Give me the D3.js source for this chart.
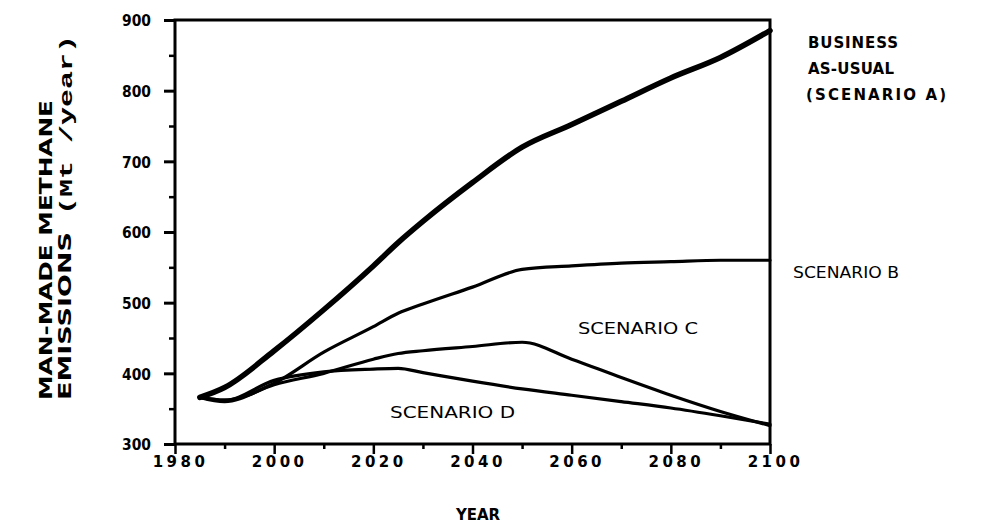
<!DOCTYPE html>
<html><head><meta charset="utf-8">
<script src="https://cdn.jsdelivr.net/npm/d3@7"></script>
<style>body{margin:0;background:#fff}svg{display:block}</style>
</head><body>
<svg id="c" width="993" height="529"></svg>
<script>
const years = [1985,1990,2000,2010,2020,2025,2030,2040,2050,2060,2070,2080,2090,2100];
const scenarioA = [366,380,432,490,552,585,615,670,720,752,785,818,847,885];
const scenarioB = [366,362,386,430,466,485,498,522,547,552,556,558,560,560];
const scenarioC = [366,360,384,400,420,428,432,438,444,420,394,369,346,326];
const scenarioD = [366,362,390,402,406,407,401,389,378,369,360,351,340,328];
const xTicks = [1980,2000,2020,2040,2060,2080,2100];
const xTickLabels = ["1980","2000","2020","2040","2060","2080","2100"];
const yTicks = [300,400,500,600,700,800,900];

const svg = d3.select("#c");
const L=175, R=770, T=20, B=444;
const x = d3.scaleLinear().domain([1980,2100]).range([L,R]);
const y = d3.scaleLinear().domain([300,900]).range([B,T]);
const FONT = "'DejaVu Sans', sans-serif";

// frame
svg.append("rect").attr("x",L).attr("y",T).attr("width",R-L).attr("height",B-T)
  .attr("fill","none").attr("stroke","#000").attr("stroke-width",3);

// y axis
const yAx = svg.append("g").attr("transform",`translate(${L},0)`)
  .call(d3.axisLeft(y).tickValues(d3.range(300,901,50)).tickSize(8).tickFormat(d=> yTicks.includes(d)? d : ""));
yAx.select(".domain").remove();
yAx.selectAll(".tick line").attr("stroke","#000").attr("stroke-width",d=> d%100===0?3:2.5)
  .attr("x2",d=> d%100===0?-11:-6);
yAx.selectAll(".tick text").filter(d=>yTicks.includes(d)).attr("x",-24).attr("dy","0.36em")
  .style("font-family",FONT).style("font-weight","bold").style("font-size","16px")
  .attr("textLength",29).attr("lengthAdjust","spacingAndGlyphs");

// x axis
const xAx = svg.append("g").attr("transform",`translate(0,${B})`)
  .call(d3.axisBottom(x).tickValues(d3.range(1980,2101,10)).tickSize(8)
    .tickFormat(d=> { const i = xTicks.indexOf(d); return i>=0 ? xTickLabels[i] : ""; }));
xAx.select(".domain").remove();
xAx.selectAll(".tick line").attr("stroke","#000").attr("stroke-width",2.5)
  .attr("y2",d=> d%20===0?10:5);
xAx.selectAll(".tick text").filter(d=>xTicks.includes(d)).attr("y",12).attr("dx","5px")
  .style("font-family",FONT).style("font-weight","bold").style("font-size","15px")
  .style("letter-spacing","3.5px");

// lines
const line = d3.line().x(d=>x(d[0])).y(d=>y(d[1])).curve(d3.curveMonotoneX);
const series = [[scenarioA,5.5],[scenarioB,3.2],[scenarioC,3.2],[scenarioD,3.2]];
series.forEach(([vals,w])=>{
  svg.append("path").datum(years.map((yr,i)=>[yr,vals[i]]))
    .attr("d",line).attr("fill","none").attr("stroke","#000").attr("stroke-width",w)
    .attr("stroke-linejoin","round").attr("stroke-linecap","round");
});

// axis titles
svg.append("text").attr("x",456).attr("y",520)
  .style("font-family",FONT).style("font-weight","bold").style("font-size","15px")
  .attr("textLength",44).attr("lengthAdjust","spacing").text("YEAR");
const yl = svg.append("g").attr("transform","rotate(-90)");
yl.append("text").attr("x",-400).attr("y",52)
  .style("font-family",FONT).style("font-weight","900").style("font-size","17px")
  .attr("textLength",300).attr("lengthAdjust","spacingAndGlyphs")
  .text("MAN-MADE  METHANE");
yl.append("text").attr("x",-400).attr("y",71)
  .style("font-family",FONT).style("font-weight","900").style("font-size","17px")
  .attr("textLength",168).attr("lengthAdjust","spacingAndGlyphs").text("EMISSIONS");
yl.append("text").attr("x",-215).attr("y",72)
  .style("font-family","'Liberation Mono', monospace").style("font-weight","bold").style("font-size","18px")
  .attr("textLength",180).attr("lengthAdjust","spacingAndGlyphs").text("(Mt  /year)");

// series labels
const lab = (txt,xx,yy,opt={})=>{
  const t = svg.append("text").attr("x",xx).attr("y",yy)
    .style("font-family",FONT).style("font-weight",opt.bold?"bold":"normal")
    .style("font-size",(opt.size||15)+"px").text(txt);
  if(opt.len) t.attr("textLength",opt.len).attr("lengthAdjust",opt.adj||"spacingAndGlyphs");
  return t;
};
lab("BUSINESS",808,48,{bold:true,size:15,len:90,adj:"spacing"});
lab("AS-USUAL",808,74,{bold:true,size:15,len:86,adj:"spacing"});
lab("(SCENARIO  A)",806,100,{bold:true,size:15,len:140,adj:"spacing"});
lab("SCENARIO B",793,278,{size:16,len:106});
lab("SCENARIO C",578,334,{size:16,len:120});
lab("SCENARIO D",390,418,{size:16,len:125});
</script>
</body></html>
